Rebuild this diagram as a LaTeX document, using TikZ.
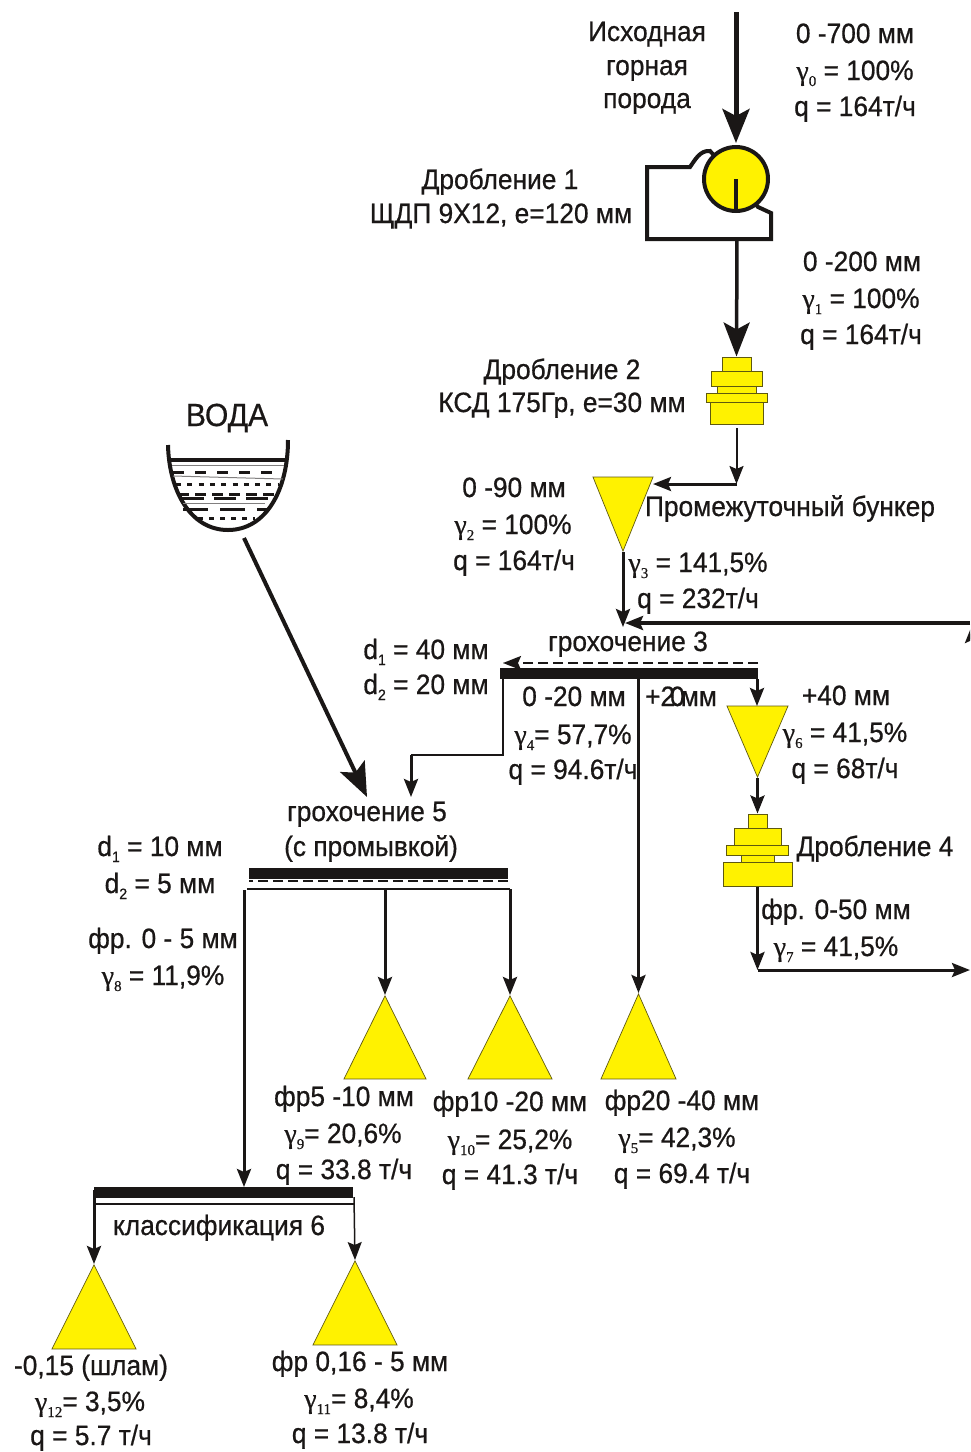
\documentclass[tikz,border=0pt]{standalone}
\usepackage{fontspec}
\setmainfont[FakeStretch=0.94,FakeBold=0.6]{Liberation Sans}
\newfontfamily\gamfont[FakeBold=0.6]{Liberation Serif}
\usetikzlibrary{arrows.meta,shapes.geometric}
\definecolor{ink}{HTML}{1A1716}
\definecolor{fillyellow}{HTML}{FFF200}
\newcommand{\gam}[1]{{\gamfont\fontsize{28}{30}\selectfont γ\raisebox{-6pt}{\fontsize{15}{16}\selectfont #1}}}
\newcommand{\dsub}[1]{d\raisebox{-6pt}{\fontsize{15}{16}\selectfont #1}}
\tikzset{
  lbl/.style={anchor=base, inner sep=0pt, yshift=1pt, text=ink, font=\fontsize{28}{34}\selectfont},
  pile/.style={isosceles triangle, isosceles triangle stretches, shape border rotate=90, draw=ink!70!fillyellow, line width=0.7pt, fill=fillyellow, inner sep=0pt, minimum height=84pt, anchor=apex},
  bunker/.style={isosceles triangle, isosceles triangle stretches, shape border rotate=-90, draw=ink!70!fillyellow, line width=0.7pt, fill=fillyellow, inner sep=0pt, anchor=apex},
  part/.style={rectangle, draw=ink!70!fillyellow, line width=1pt, fill=fillyellow, inner sep=0pt},
  screen/.style={rectangle, fill=ink, inner sep=0pt, minimum height=11pt},
  bigarrow/.style={-{Stealth[length=34pt,width=27pt,inset=7pt]}, draw=ink, line width=5pt},
  midarrow/.style={-{Stealth[length=34pt,width=26pt,inset=7pt]}, draw=ink, line width=3.5pt},
  arrow/.style={-{Stealth[length=18pt,width=14pt,inset=3pt]}, draw=ink, line width=3pt},
  plain/.style={draw=ink, line width=2.5pt},
  body/.style={draw=ink, line width=4pt},
  dashes/.style={draw=ink, line width=3pt},
  hair/.style={draw=ink!55, line width=1pt}
}
\begin{document}
\begin{tikzpicture}[x=1pt, y=-1pt]
\useasboundingbox (0,0) rectangle (970,1452);
\clip (0,0) rectangle (970,1452);
\coordinate (feed) at (736,12);
\coordinate (jawtop) at (736,143);
\coordinate (jawout) at (737,239);
\coordinate (watersrc) at (244,538);
\coordinate (watertip) at (367,797);
\coordinate (corner2) at (736.5,484);
\coordinate (bintip) at (653,484);
\coordinate (join3) at (623,627);
\coordinate (returnend) at (970,623);
\coordinate (returntip) at (625,623);
\coordinate (upend) at (972,680);
\coordinate (uptip) at (972,625);
\coordinate (fines3a) at (503,755);
\coordinate (fines3b) at (411,755);
\coordinate (fines3c) at (411,797);
\coordinate (dash3a) at (758,663);
\coordinate (dash3b) at (503,663);
\coordinate (over3) at (757,706);
\coordinate (mid3) at (638.5,679);
\coordinate (corner7) at (757.5,970);
\coordinate (out7) at (970,970);
\coordinate (top5) at (246,889);
\coordinate (deck5a) at (247,889);
\coordinate (deck5b) at (510,889);
\coordinate (drop5) at (385,889);
\coordinate (tip6) at (244,1187);
\coordinate (deck6a) at (95,1204);
\coordinate (deck6b) at (354,1204);
\coordinate (left6) at (94,1190);
\coordinate (right6) at (354,1197);
% crushers
\draw[body, fill=white] (647,167) -- (690,167) .. controls (695,160) and (700,150) .. (710,151) -- (736,179) -- (758,207) -- (771,213) -- (771,239) -- (647,239) -- cycle;
\node[circle, draw=ink, line width=4pt, fill=fillyellow, inner sep=0pt, minimum size=64pt] (jaw) at (736,179) {};
\draw[body] (jaw.center) -- (jaw.south);
\node[part, minimum width=29pt, minimum height=14pt] (ksda) at (736.5,364) {};
\node[part, minimum width=51pt, minimum height=15pt] (ksdb) at (736.5,378.5) {};
\node[part, minimum width=39pt, minimum height=7pt] (ksdc) at (736.5,389.5) {};
\node[part, minimum width=61pt, minimum height=9pt] (ksdd) at (736.5,397.5) {};
\node[part, minimum width=53pt, minimum height=22pt] (ksde) at (736.5,413) {};
\node[part, minimum width=19pt, minimum height=14pt] (kmda) at (757.5,821) {};
\node[part, minimum width=47pt, minimum height=17pt] (kmdb) at (757.5,836.5) {};
\node[part, minimum width=62pt, minimum height=10pt] (kmdc) at (757,850) {};
\node[part, minimum width=33pt, minimum height=7pt] (kmdd) at (757.5,858.5) {};
\node[part, minimum width=69pt, minimum height=24pt] (kmde) at (757.5,874) {};
% water tank
\draw[body] (168,445) .. controls (169,490) and (190,530) .. (228,530) .. controls (266,530) and (288,490) .. (288,440);
\draw[body] (170,460) -- (286,460);
\draw[hair] (172,465) -- (284,465);
\draw[hair] (173,476) -- (283,479);
\draw[hair] (183,503) -- (265,503);
\draw[dashes, dash pattern=on 11pt off 11pt] (173,472) -- (283,472);
\draw[dashes, dash pattern=on 5pt off 6.3pt] (176,484) -- (278,484);
\draw[dashes, dash pattern=on 11pt off 6pt] (178,494) -- (275,494);
\draw[dashes, dash pattern=on 22pt off 10pt] (182,498) -- (268,498);
\draw[dashes, dash pattern=on 25pt off 12pt] (183,509) -- (268,509);
\draw[dashes, dash pattern=on 5pt off 6pt] (198,518) -- (255,518);
% piles
\node[bunker, minimum height=74pt, minimum width=60pt] (bin) at (623,552) {};
\node[bunker, minimum height=71pt, minimum width=61pt] (pile6) at (757.5,778) {};
\node[pile, minimum width=82pt, minimum height=83pt] (pile9) at (385,995) {};
\node[pile, minimum width=84pt, minimum height=83pt] (pile10) at (510,995) {};
\node[pile, minimum width=75pt, minimum height=85pt] (pile5) at (638.5,993) {};
\node[pile, minimum width=84pt] (pile12) at (94,1264) {};
\node[pile, minimum width=84pt] (pile11) at (355,1260) {};
% screens
\node[screen, minimum width=258pt] (bar3) at (629,673.5) {};
\node[screen, minimum width=259pt] (bar5) at (378.5,873) {};
\node[screen, minimum width=259pt] (bar6) at (223.5,1192) {};
% flows
\draw[bigarrow] (feed) -- (jawtop);
\draw[midarrow] (jawout) -- (ksda.north);
\draw[arrow, line width=2pt] (ksde.south |- 0,428) -- (corner2);
\draw[arrow] (corner2) -- (bintip);
\draw[arrow] (bin.apex) -- (join3);
\draw[arrow, line width=3.5pt] (returnend) -- (returntip);
\draw[arrow] (upend) -- (uptip);
\draw[bigarrow, line width=4pt] (watersrc) -- (watertip);
\draw[plain, dash pattern=on 10pt off 5pt] (dash3a) -- (dash3b);
\draw[arrow, line width=2pt] (dash3a -| dash3b) ++(14,0) -- (dash3b);
\draw[plain] (bar3.south west -| fines3a) -- (fines3a) -- (fines3b);
\draw[arrow] (fines3b) -- (fines3c);
\draw[arrow] (bar3.south east -| over3) -- (over3);
\draw[arrow] (mid3) -- (pile5.apex);
\draw[arrow] (pile6.apex) -- (kmda.north);
\draw[arrow] (kmde.south) -- (corner7);
\draw[arrow] (corner7) -- (out7);
\draw[plain, dash pattern=on 10pt off 5pt] (bar5.east |- 0,881) -- (bar5.west |- 0,881);
\draw[plain] (deck5a) -- (deck5b);
\draw[arrow] (top5) ++(-2,1) -- (tip6);
\draw[arrow] (drop5) -- (pile9.apex);
\draw[arrow] (deck5b) -- (pile10.apex);
\draw[plain] (deck6a) -- (deck6b);
\draw[arrow] (left6) -- (pile12.apex);
\draw[arrow, line width=1.5pt] (right6) -- (pile11.apex);
% labels
\node[lbl] (src1) at (647,42) {Исходная};
\node[lbl] (src2) at (647,76) {горная};
\node[lbl] (src3) at (647,109) {порода};
\node[lbl] (s0a) at (855,44) {0 -700 мм};
\node[lbl] (s0b) at (855,81) {\gam{0} = 100\%};
\node[lbl] (s0c) at (855,117) {q = 164т/ч};
\node[lbl] (crush1a) at (500,190) {Дробление 1};
\node[lbl] (crush1b) at (501,224) {ЩДП 9Х12, е=120 мм};
\node[lbl] (s1a) at (862,272) {0 -200 мм};
\node[lbl] (s1b) at (861,309) {\gam{1} = 100\%};
\node[lbl] (s1c) at (861,345) {q = 164т/ч};
\node[lbl] (crush2a) at (562,380) {Дробление 2};
\node[lbl] (crush2b) at (562,413) {КСД 175Гр, е=30 мм};
\node[lbl, font=\fontsize{32}{36}\selectfont] (water) at (227,427) {ВОДА};
\node[lbl] (s2a) at (514,498) {0 -90 мм};
\node[lbl] (s2b) at (513,535) {\gam{2} = 100\%};
\node[lbl] (s2c) at (514,571) {q = 164т/ч};
\node[lbl] (binlbl) at (790,517) {Промежуточный бункер};
\node[lbl] (s3a) at (698,573) {\gam{3} = 141,5\%};
\node[lbl] (s3b) at (698,609) {q = 232т/ч};
\node[lbl] (scr3) at (628,652) {грохочение 3};
\node[lbl] (d3a) at (426,660) {\dsub{1} = 40 мм};
\node[lbl] (d3b) at (426,695) {\dsub{2} = 20 мм};
\node[lbl] (s4a) at (574,707) {0 -20 мм};
\node[lbl] (s5top) at (681,707) {+2\kern-5pt0\kern-4pt мм};
\node[lbl] (s4b) at (573,745) {\gam{4}= 57,7\%};
\node[lbl] (s4c) at (573,780) {q = 94.6т/ч};
\node[lbl] (s6a) at (846,706) {+40 мм};
\node[lbl] (s6b) at (845,743) {\gam{6} = 41,5\%};
\node[lbl] (s6c) at (845,779) {q = 68т/ч};
\node[lbl] (crush4) at (875,857) {Дробление 4};
\node[lbl] (s7a) at (836,920) {фр. 0-50 мм};
\node[lbl] (s7b) at (836,957) {\gam{7} = 41,5\%};
\node[lbl] (scr5a) at (367,822) {грохочение 5};
\node[lbl] (scr5b) at (371,857) {(с промывкой)};
\node[lbl] (d5a) at (160,857) {\dsub{1} = 10 мм};
\node[lbl] (d5b) at (160,894) {\dsub{2} = 5 мм};
\node[lbl] (s8a) at (163,949) {фр. 0 - 5 мм};
\node[lbl] (s8b) at (163,986) {\gam{8} = 11,9\%};
\node[lbl] (s9a) at (344,1107) {фр5 -10 мм};
\node[lbl] (s9b) at (343,1144) {\gam{9}= 20,6\%};
\node[lbl] (s9c) at (344,1180) {q = 33.8 т/ч};
\node[lbl] (s10a) at (510,1112) {фр10 -20 мм};
\node[lbl] (s10b) at (510,1150) {\gam{10}= 25,2\%};
\node[lbl] (s10c) at (510,1185) {q = 41.3 т/ч};
\node[lbl] (s5a) at (682,1111) {фр20 -40 мм};
\node[lbl] (s5b) at (677,1148) {\gam{5}= 42,3\%};
\node[lbl] (s5c) at (682,1184) {q = 69.4 т/ч};
\node[lbl] (class6) at (219,1236) {классификация 6};
\node[lbl] (s12a) at (91,1376) {-0,15 (шлам)};
\node[lbl] (s12b) at (90,1412) {\gam{12}= 3,5\%};
\node[lbl] (s12c) at (91,1446) {q = 5.7 т/ч};
\node[lbl] (s11a) at (360,1372) {фр 0,16 - 5 мм};
\node[lbl] (s11b) at (359,1409) {\gam{11}= 8,4\%};
\node[lbl] (s11c) at (360,1444) {q = 13.8 т/ч};
\end{tikzpicture}
\end{document}
